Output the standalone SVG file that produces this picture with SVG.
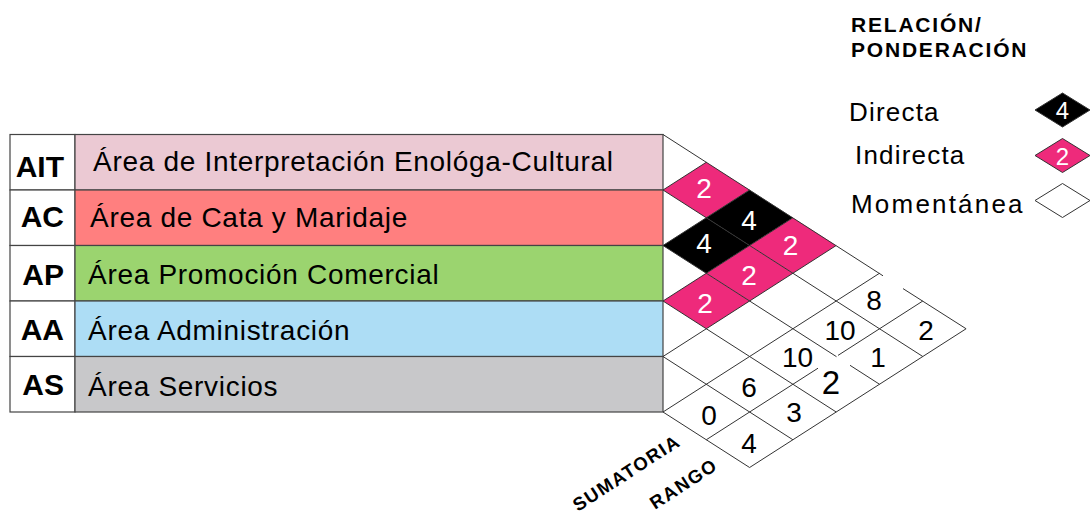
<svg xmlns="http://www.w3.org/2000/svg" width="1092" height="517" viewBox="0 0 1092 517">
<style>
.row{stroke:#444;stroke-width:1.2}
.abbr{font-family:"Liberation Sans",Arial,sans-serif;font-weight:bold;font-size:30px;fill:#000;text-anchor:end}
.name{font-family:"Liberation Sans",Arial,sans-serif;font-size:28px;letter-spacing:0.7px;fill:#000}
.grid{fill:none;stroke:#333;stroke-width:1}
.pink{fill:#EE2A7B}
.blk{fill:#000}
.wnum{font-family:"Liberation Sans",Arial,sans-serif;font-size:28px;fill:#fff;text-anchor:middle}
.num{font-family:"Liberation Sans",Arial,sans-serif;font-size:28px;fill:#000;text-anchor:middle}
.leg{font-family:"Liberation Sans",Arial,sans-serif;font-size:26px;letter-spacing:1.2px;fill:#000}
.head{font-family:"Liberation Sans",Arial,sans-serif;font-size:21px;font-weight:bold;letter-spacing:1.8px;fill:#000}
.axis{font-family:"Liberation Sans",Arial,sans-serif;font-size:18.5px;font-weight:bold;letter-spacing:1.5px;fill:#000}
</style>
<rect width="1092" height="517" fill="#fff"/>

<!-- table rows -->
<g id="row-AIT">
<rect class="row" x="10" y="134.5" width="65" height="55.5" fill="#fff"/>
<rect class="row" x="75" y="134.5" width="588" height="55.5" fill="#EBC9D3"/>
<text class="abbr" x="64" y="176.7">AIT</text>
<text class="name" x="93" y="170.7">Área de Interpretación Enológa-Cultural</text>
</g>
<g id="row-AC">
<rect class="row" x="10" y="190" width="65" height="55.5" fill="#fff"/>
<rect class="row" x="75" y="190" width="588" height="55.5" fill="#FF7F7F"/>
<text class="abbr" x="64" y="227">AC</text>
<text class="name" x="90" y="227">Área de Cata y Maridaje</text>
</g>
<g id="row-AP">
<rect class="row" x="10" y="245.5" width="65" height="55.5" fill="#fff"/>
<rect class="row" x="75" y="245.5" width="588" height="55.5" fill="#9BD46F"/>
<text class="abbr" x="64" y="285">AP</text>
<text class="name" x="88" y="284">Área Promoción Comercial</text>
</g>
<g id="row-AA">
<rect class="row" x="10" y="301" width="65" height="55.5" fill="#fff"/>
<rect class="row" x="75" y="301" width="588" height="55.5" fill="#ADDDF5"/>
<text class="abbr" x="64" y="340">AA</text>
<text class="name" x="88" y="340">Área Administración</text>
</g>
<g id="row-AS">
<rect class="row" x="10" y="356.5" width="65" height="55.5" fill="#fff"/>
<rect class="row" x="75" y="356.5" width="588" height="55.5" fill="#C8C8CA"/>
<text class="abbr" x="64" y="395">AS</text>
<text class="name" x="88" y="396">Área Servicios</text>
</g>

<!-- coloured cells -->
<g id="cell-AIT-AC"><polygon class="pink" points="663,190 706.3,162.25 749.6,190 706.3,217.75"/></g>
<g id="cell-AIT-AP"><polygon class="blk" points="706.3,217.75 749.6,190 792.9,217.75 749.6,245.5"/></g>
<g id="cell-AC-AP"><polygon class="blk" points="663,245.5 706.3,217.75 749.6,245.5 706.3,273.25"/></g>
<g id="cell-AIT-AA"><polygon class="pink" points="749.6,245.5 792.9,217.75 836.2,245.5 792.9,273.25"/></g>
<g id="cell-AC-AA"><polygon class="pink" points="706.3,273.25 749.6,245.5 792.9,273.25 749.6,301"/></g>
<g id="cell-AP-AA"><polygon class="pink" points="663,301 706.3,273.25 749.6,301 706.3,328.75"/></g>

<!-- grid lines -->
<g id="grid" class="grid">
<path d="M663,134.5 L883,275.8 M903,288.6 L966.1,328.75"/>
<path d="M663,190 L922.8,356.5"/>
<path d="M663,245.5 L836.5,356.7 M850,365.3 L879.5,384.25"/>
<path d="M663,301 L836.2,412"/>
<path d="M663,356.5 L792.9,439.75"/>
<path d="M663,412 L749.6,467.5"/>
<path d="M663,190 L706.3,162.25"/>
<path d="M663,245.5 L749.6,190"/>
<path d="M663,301 L792.9,217.75"/>
<path d="M663,356.5 L836.2,245.5"/>
<path d="M663,412 L879.5,273.25"/>
<path d="M706.3,439.75 L818,368.2 M838,355.4 L922.8,301"/>
<path d="M749.6,467.5 L966.1,328.75"/>
</g>

<!-- cell values -->
<g id="values">
<text class="wnum" x="704" y="198.3">2</text>
<text class="wnum" x="749" y="230">4</text>
<text class="wnum" x="704" y="253">4</text>
<text class="wnum" x="790.5" y="255">2</text>
<text class="wnum" x="749" y="285">2</text>
<text class="wnum" x="705" y="313">2</text>
</g>

<g id="sumatoria">
<text class="num" x="709" y="425">0</text>
<text class="num" x="749" y="396.7">6</text>
<text class="num" x="797.5" y="366.7">10</text>
<text class="num" x="840" y="340">10</text>
<text class="num" x="874" y="310">8</text>
</g>
<g id="rango">
<text class="num" x="749" y="453">4</text>
<text class="num" x="794" y="421.7">3</text>
<text class="num" x="831" y="394" style="font-size:33px">2</text>
<text class="num" x="878" y="366.7">1</text>
<text class="num" x="926" y="340">2</text>
</g>

<g id="axis-labels">
<text class="axis" x="578" y="512" transform="rotate(-33 578 512)">SUMATORIA</text>
<text class="axis" x="655" y="510" transform="rotate(-33 655 510)">RANGO</text>
</g>

<!-- legend -->
<g id="legend">
<text class="head" x="851" y="31.5">RELACIÓN/</text>
<text class="head" x="851" y="56.5">PONDERACIÓN</text>
<g id="legend-directa">
<text class="leg" x="849" y="121">Directa</text>
<polygon points="1035,110 1062.5,93 1090,110 1062.5,127" fill="#000" stroke="#333" stroke-width="1"/>
<text class="wnum" x="1062.5" y="119" style="font-size:24px">4</text>
</g>
<g id="legend-indirecta">
<text class="leg" x="855" y="163.5">Indirecta</text>
<polygon points="1035,155.5 1062.5,138.5 1090,155.5 1062.5,172.5" class="pink" stroke="#333" stroke-width="1"/>
<text class="wnum" x="1062.5" y="164.5" style="font-size:24px">2</text>
</g>
<g id="legend-momentanea">
<text class="leg" x="851" y="213.3" style="letter-spacing:2.2px">Momentánea</text>
<polygon points="1035,200.5 1062.5,183.5 1090,200.5 1062.5,217.5" fill="#fff" stroke="#333" stroke-width="1"/>
</g>
</g>
</svg>
